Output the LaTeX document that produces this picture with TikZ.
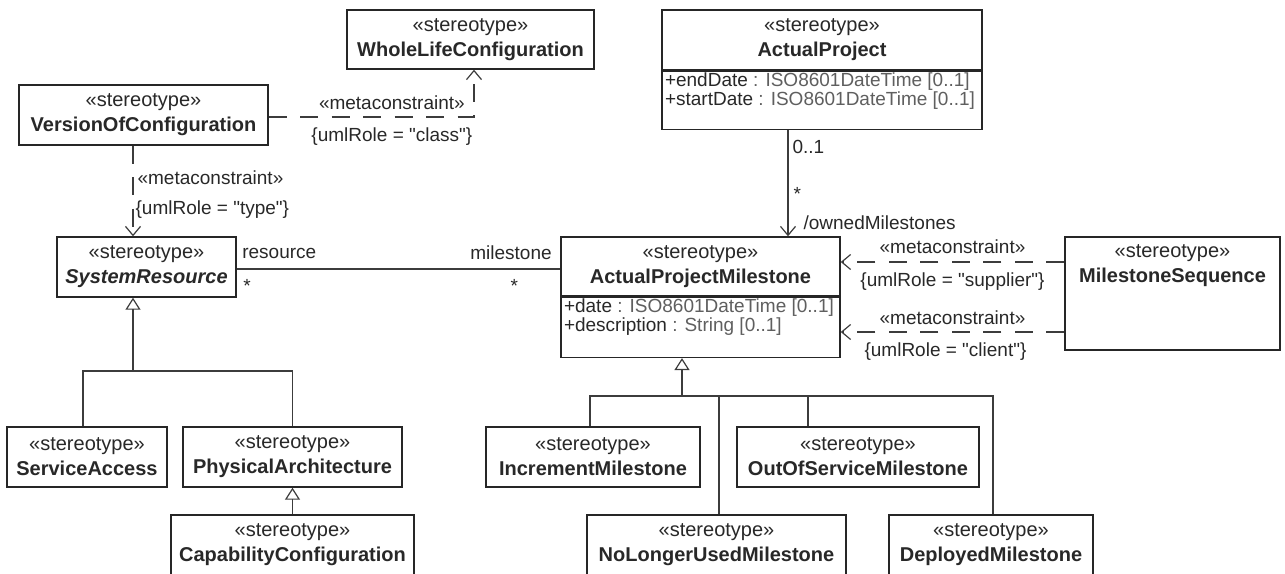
\documentclass[tikz,border=0pt]{standalone}
\usepackage{fontspec}
\setmainfont{Liberation Sans}[Ligatures=TeXOff]
\usetikzlibrary{arrows.meta, positioning}
\definecolor{UmlLine}{RGB}{60, 60, 60}
\definecolor{UmlText}{RGB}{40, 40, 40}
\definecolor{UmlType}{RGB}{95, 95, 95}

\tikzset{
	cls/.style={draw=black!85, line width=1.4pt, fill=white, align=center, inner sep=0pt, minimum height=60pt, text=UmlText},
	attrs/.style={anchor=north west, align=left, inner xsep=3.5pt, inner ysep=2pt, font=\fontsize{19}{19}\selectfont, text=UmlText},
	lbl/.style={inner sep=1pt, font=\fontsize{19}{20}\selectfont, text=UmlText},
	assoc/.style={draw=UmlLine, line width=1.2pt},
	nav/.style={assoc, -{Straight Barb[length=9pt, width=15pt]}},
	dep/.style={nav, dash pattern=on 18pt off 13.5pt},
	gen/.style={assoc, -{Triangle[open, length=12pt, width=15pt]}}
}

\begin{document}
\begin{tikzpicture}[x=1pt, y=-1pt, font=\fontsize{20}{25}\selectfont]
	\useasboundingbox (0,0) rectangle (1285,573);
	\clip (0,0) rectangle (1285,573);

	% stereotypes
	\node[cls, minimum width=247pt, minimum height=59pt] (wlc) at (470.5,39.5) {«stereotype»\\\textbf{WholeLifeConfiguration}};
	\node[cls, minimum width=249pt] (voc) at (143.5,115) {«stereotype»\\\textbf{VersionOfConfiguration}};
	\node[cls, minimum width=179pt] (sr) at (146.5,267) {«stereotype»\\\textbf{\textit{SystemResource}}};

	\node[cls, minimum width=320pt] (ap) at (822,40) {«stereotype»\\\textbf{ActualProject}};
	\node[cls, minimum width=320pt, minimum height=58pt, below=0pt of ap] (ap-attr) {};
	\node[attrs] (ap-text) at (ap-attr.north west) {+endDate \textcolor{UmlType}{: ISO8601DateTime [0..1]}\\+startDate \textcolor{UmlType}{: ISO8601DateTime [0..1]}};

	\node[cls, minimum width=279pt, minimum height=59pt] (apm) at (700.5,266.5) {«stereotype»\\\textbf{ActualProjectMilestone}};
	\node[cls, minimum width=279pt, below=0pt of apm] (apm-attr) {};
	\node[attrs] (apm-text) at (apm-attr.north west) {+date \textcolor{UmlType}{: ISO8601DateTime [0..1]}\\+description \textcolor{UmlType}{: String [0..1]}};

	\node[cls, minimum width=215pt, minimum height=113pt] (ms) at (1172.5,293.5) {};
	\node[align=center, anchor=north, inner sep=0pt, text=UmlText] (ms-title) at ([yshift=-8.5pt]ms.north) {«stereotype»\\\textbf{MilestoneSequence}};

	\node[cls, minimum width=160pt] (sa) at (87,457) {«stereotype»\\\textbf{ServiceAccess}};
	\node[cls, minimum width=219pt] (pa) at (292.5,457) {«stereotype»\\\textbf{PhysicalArchitecture}};
	\node[cls, minimum width=243pt] (cc) at (292.5,545) {«stereotype»\\\textbf{CapabilityConfiguration}};

	\node[cls, minimum width=214pt] (im) at (593,457) {«stereotype»\\\textbf{IncrementMilestone}};
	\node[cls, minimum width=242pt] (oos) at (858,457) {«stereotype»\\\textbf{OutOfServiceMilestone}};
	\node[cls, minimum width=259pt] (nlu) at (716.5,545) {«stereotype»\\\textbf{NoLongerUsedMilestone}};
	\node[cls, minimum width=204pt] (dm) at (991,545) {«stereotype»\\\textbf{DeployedMilestone}};

	% generalisations
	\coordinate (srfork) at (133,371);
	\coordinate (apmfork) at (682,396);
	\draw[gen] (srfork) -- (srfork |- sr.south);
	\draw[assoc] ([xshift=-4pt]sa.north) |- (srfork);
	\draw[assoc] (pa.north) |- (srfork);
	\draw[gen] (cc.north) -- (pa.south);
	\draw[gen] (apmfork) -- (apmfork |- apm-attr.south);
	\draw[assoc] ([xshift=-3pt]im.north) |- (apmfork);
	\draw[assoc] ([xshift=2.5pt]nlu.north) |- (apmfork);
	\draw[assoc] ([xshift=-50pt]oos.north) |- (apmfork);
	\draw[assoc] ([xshift=2pt]dm.north) |- (apmfork);

	% associations
	\draw[assoc] ([yshift=-2pt]sr.east) -- ([yshift=-2pt]sr.east -| apm.west)
		node[lbl, pos=0, anchor=west, xshift=4pt, yshift=16pt] (role-res) {resource}
		node[lbl, pos=0, anchor=west, xshift=5pt, yshift=-17pt] (mult-res) {*}
		node[lbl, pos=1, anchor=east, xshift=-7pt, yshift=16pt] (role-mil) {milestone}
		node[lbl, pos=1, xshift=-46pt, yshift=-17pt] (mult-mil) {*};
	\coordinate (owned) at ([xshift=-34pt]ap-attr.south);
	\draw[nav] (owned) -- (owned |- apm.north)
		node[lbl, pos=0.16, anchor=west, xshift=3pt] (mult-ap) {0..1}
		node[lbl, pos=0.6, anchor=west, xshift=4pt] (mult-apm) {*}
		node[lbl, pos=0.87, anchor=west, xshift=14pt] (role-owned) {/ownedMilestones};

	% metaconstraints
	\coordinate (wlcin) at ([xshift=3.5pt]wlc.south);
	\draw[dep] ([yshift=-2pt]voc.east) -| (wlcin)
		node[lbl, pos=0.3, yshift=14pt] (mc-class) {«metaconstraint»}
		node[lbl, pos=0.3, yshift=-20pt] (role-class) {\{umlRole = "class"\}};
	\draw[dep] (voc.south -| srfork) -- (sr.north -| srfork)
		node[lbl, pos=0.35, anchor=west, xshift=3pt] (mc-type) {«metaconstraint»}
		node[lbl, pos=0.71, anchor=west, xshift=1pt] (role-type) {\{umlRole = "type"\}};
	\coordinate (supp) at ([yshift=31.5pt]ms.west);
	\coordinate (clnt) at ([yshift=-38.5pt]ms.west);
	\draw[dep] (supp) -- (supp -| apm.east)
		node[lbl, midway, yshift=15pt] (mc-supp) {«metaconstraint»}
		node[lbl, midway, yshift=-20pt] (role-supp) {\{umlRole = "supplier"\}};
	\draw[dep] (clnt) -- (clnt -| apm.east)
		node[lbl, midway, yshift=14pt] (mc-clnt) {«metaconstraint»}
		node[lbl, midway, xshift=-7pt, yshift=-20pt] (role-clnt) {\{umlRole = "client"\}};
\end{tikzpicture}
\end{document}
